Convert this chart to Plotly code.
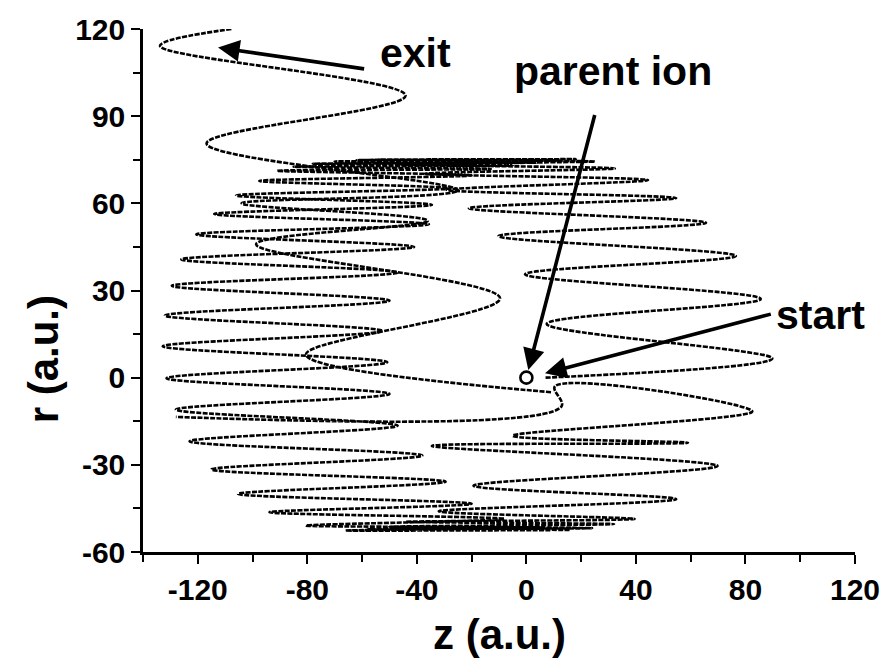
import plotly.graph_objects as go

# Turning points (z, r) of the electron trajectory, in time order.
# Main loop: launch near the ion, climb on the +z side, sweep left along the top,
# descend on the -z side, sweep right along the bottom and climb again.
loop_z = [7.0, 89.8, 7.4, 85.6, -0.5, 76.5, -10.2, 65.6, -21.0, 54.7, -29.0, 44.4,
          -37.0, 32.3,
          -46.0, 25.0, -55.0, 18.0, -62.0, 12.0, -70.0, 4.0, -78.0, -5.0, -85.0, -13.0,
          -91.0, -20.0, -97.5, -27.8, -106.0, -34.5, -114.0, -35.6, -120.5, -41.0,
          -126.0, -47.0, -129.5, -50.0, -132.0, -52.6, -132.8, -50.8, -131.4, -50.0,
          -128.0, -47.0, -123.0, -38.0, -115.0, -29.5, -105.3, -20.0, -93.8, -8.0,
          -80.5, 6.0, -66.0,
          16.0, -58.0, 24.0, -50.0, 32.0, -44.0, 39.5,
          -32.0, 54.7, -19.3, 69.8, -34.5, 59.0, -5.0, 82.5, 10.4, 12.8, -128.0]
loop_r = [0.0, 6.6, 18.5, 27.1, 35.6, 41.9, 48.7, 53.3, 58.3, 61.8, 64.6, 68.0,
          70.2, 72.0,
          73.4, 74.4, 75.0, 75.2, 74.9, 74.8, 74.4, 74.0, 73.6, 73.0, 72.6, 71.8,
          71.2, 69.6, 67.7, 65.2, 62.7, 59.5, 56.3, 52.8, 49.3, 45.0,
          40.7, 36.2, 31.6, 26.5, 21.4, 16.1, 10.8, 5.3, -0.2, -5.6,
          -11.0, -16.5, -21.9, -26.8, -31.6, -35.8, -40.0, -43.4, -46.3, -48.6,
          -50.9, -51.6, -52.6,
          -52.4, -52.2, -51.8, -51.3, -50.4, -49.6, -48.6,
          -46.0, -41.8, -37.2, -30.4, -23.5, -22.4, -20.0, -11.6, -3.0, -9.9, -13.5]

# Escape branch: from the ion region across the middle and out through the top.
escape_z = [9.0, -80.5, -9.6, -98.7, -36.0, -104.0, -25.0, -116.8, -44.1, -133.8, -107.7]
escape_r = [-5.0, 8.0, 27.3, 45.9, 54.0, 60.0, 64.5, 80.6, 97.1, 114.2, 120.0]

# Parent ion position
ion_z = [0.0]
ion_r = [0.0]

x_ticks = [-120, -80, -40, 0, 40, 80, 120]
x_minor = [-140, -100, -60, -20, 20, 60, 100]
y_ticks = [-60, -30, 0, 30, 60, 90, 120]
y_minor = [-45, -15, 15, 45, 75, 105]

FONT = "Liberation Sans, Arial, Helvetica, sans-serif"
path_line = dict(color="black", width=2.6, shape="spline", smoothing=1.0, dash="5px,1.4px")

fig = go.Figure()
fig.add_trace(go.Scatter(x=loop_z, y=loop_r, mode="lines", line=path_line,
                         hoverinfo="skip", showlegend=False))
fig.add_trace(go.Scatter(x=escape_z, y=escape_r, mode="lines", line=path_line,
                         hoverinfo="skip", showlegend=False))
fig.add_trace(go.Scatter(x=ion_z, y=ion_r, mode="markers",
                         marker=dict(symbol="circle-open", size=12, color="black",
                                     line=dict(width=2.6, color="black")),
                         hoverinfo="skip", showlegend=False))

axis_common = dict(showgrid=False, zeroline=False, showline=True, linecolor="black",
                   linewidth=2.5, ticks="outside", ticklen=9, tickwidth=2.2,
                   tickcolor="black", mirror=False,
                   tickfont=dict(family=FONT, size=30, color="black", weight="bold"))

fig.update_xaxes(range=[-140, 120], tickvals=x_ticks, ticktext=[str(v) for v in x_ticks],
                 minor=dict(tickvals=x_minor, ticklen=7, tickwidth=2.2, tickcolor="black",
                            ticks="outside"),
                 **axis_common)
fig.update_yaxes(range=[-60, 120], tickvals=y_ticks, ticktext=[str(v) for v in y_ticks],
                 minor=dict(tickvals=y_minor, ticklen=7, tickwidth=2.2, tickcolor="black",
                            ticks="outside"),
                 **axis_common)

label_font = dict(family=FONT, size=41, color="black", weight="bold")
title_font = dict(family=FONT, size=42, color="black", weight="bold")
arrow = dict(showarrow=True, arrowhead=2, arrowsize=1.2, arrowwidth=3.6,
             arrowcolor="black", axref="x", ayref="y", text="", standoff=0)

fig.update_layout(
    width=892, height=666, autosize=False,
    margin=dict(l=143, r=34, t=23, b=114),
    paper_bgcolor="white", plot_bgcolor="white",
    annotations=[
        dict(x=-112.6, y=113.6, ax=-58.7, ay=106.2, **arrow),
        dict(x=0.7, y=2.6, ax=25.1, ay=90.9, **arrow),
        dict(x=6.8, y=1.5, ax=89.8, ay=22.0, **arrow),
        dict(x=-40.4, y=111.8, text="exit", showarrow=False, font=label_font),
        dict(x=31.5, y=105.5, text="parent ion", showarrow=False, font=label_font),
        dict(x=107.3, y=21.5, text="start", showarrow=False, font=label_font),
        dict(x=0.5, y=-0.157, xref="paper", yref="paper", text="z (a.u.)",
             showarrow=False, font=title_font, yanchor="middle"),
        dict(x=-0.14, y=0.369, xref="paper", yref="paper", text="r (a.u.)", textangle=-90,
             showarrow=False, font=title_font, xanchor="center", yanchor="middle"),
    ],
)

fig.write_html("out.html")
